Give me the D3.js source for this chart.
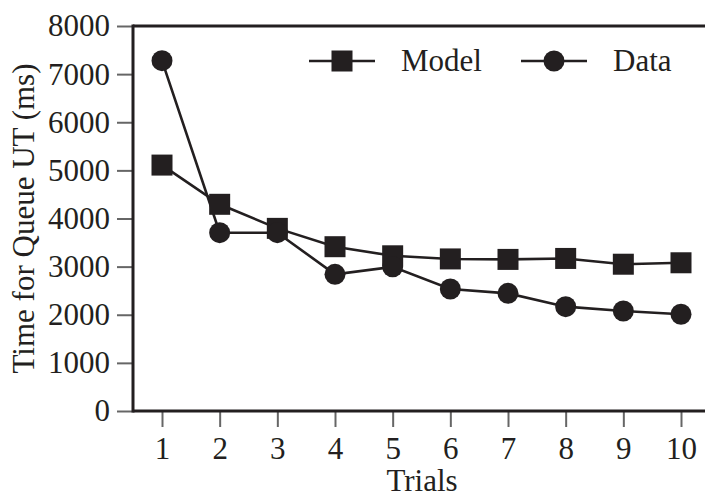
<html>
  <meta charset="utf-8" />
  <script src="https://d3js.org/d3.v7.min.js"></script>
  <style>
    body { margin: 0; background: #fff; }
    text { font-family: "Liberation Serif", "Times New Roman", serif; fill: #231f20; }
  </style>
  <body>
    <svg width="705" height="500" id="chart"></svg>
    <script>
      // values
      const trials = [1, 2, 3, 4, 5, 6, 7, 8, 9, 10];
      const model = [5110, 4295, 3795, 3414, 3225, 3160, 3150, 3170, 3050, 3080];
      const data = [7280, 3705, 3705, 2840, 2995, 2535, 2445, 2168, 2078, 2010];
      const yTicks = [0, 1000, 2000, 3000, 4000, 5000, 6000, 7000, 8000];

      const ink = "#231f20";
      const plotLeft = 133, plotTop = 26, plotBottom = 411, plotRight = 705;

      const svg = d3.select("#chart");

      const x = d3.scaleLinear().domain([1, 10]).range([162, 681]);
      const y = d3.scaleLinear().domain([0, 8000]).range([plotBottom, plotTop]);

      // y axis ticks + labels
      const yAxis = svg
        .append("g")
        .attr("transform", `translate(${plotLeft}, 0)`)
        .call(d3.axisLeft(y).tickValues(yTicks).tickFormat(d3.format("d")).tickSize(16).tickPadding(7));
      yAxis.select(".domain").remove();
      yAxis.selectAll(".tick line").attr("stroke", "#666").attr("stroke-width", 2);
      yAxis.selectAll(".tick text").attr("font-size", 31).attr("font-family", null);

      // x axis ticks + labels
      const xAxis = svg
        .append("g")
        .attr("transform", `translate(0, ${plotBottom})`)
        .call(d3.axisBottom(x).tickValues(trials).tickFormat(d3.format("d")).tickSize(16).tickPadding(10));
      xAxis.select(".domain").remove();
      xAxis.selectAll(".tick line").attr("stroke", "#666").attr("stroke-width", 2);
      xAxis.selectAll(".tick text").attr("font-size", 31).attr("font-family", null);

      // frame: left, top, bottom (open to the right edge)
      svg.append("line").attr("x1", plotLeft).attr("x2", plotRight).attr("y1", plotTop).attr("y2", plotTop)
        .attr("stroke", ink).attr("stroke-width", 3);
      svg.append("line").attr("x1", plotLeft).attr("x2", plotRight).attr("y1", plotBottom).attr("y2", plotBottom)
        .attr("stroke", ink).attr("stroke-width", 3);
      svg.append("line").attr("x1", plotLeft).attr("x2", plotLeft).attr("y1", plotTop - 1.5).attr("y2", plotBottom + 1.5)
        .attr("stroke", ink).attr("stroke-width", 3);

      const line = d3.line().x((d, i) => x(trials[i])).y((d) => y(d));

      svg.append("path").datum(data).attr("d", line)
        .attr("fill", "none").attr("stroke", ink).attr("stroke-width", 2.6);
      svg.append("path").datum(model).attr("d", line)
        .attr("fill", "none").attr("stroke", ink).attr("stroke-width", 2.6);

      const sq = 21;
      svg.selectAll(".sq").data(model).enter().append("rect")
        .attr("x", (d, i) => x(trials[i]) - sq / 2)
        .attr("y", (d) => y(d) - sq / 2)
        .attr("width", sq).attr("height", sq).attr("fill", ink);

      svg.selectAll(".dot").data(data).enter().append("circle")
        .attr("cx", (d, i) => x(trials[i]))
        .attr("cy", (d) => y(d))
        .attr("r", 10.5).attr("fill", ink);

      // legend
      const ly = 61;
      svg.append("line").attr("x1", 309).attr("x2", 375).attr("y1", ly).attr("y2", ly)
        .attr("stroke", ink).attr("stroke-width", 2.6);
      svg.append("rect").attr("x", 342 - sq / 2).attr("y", ly - sq / 2)
        .attr("width", sq).attr("height", sq).attr("fill", ink);
      svg.append("text").attr("x", 401).attr("y", 71).attr("font-size", 31).text("Model");

      svg.append("line").attr("x1", 521).attr("x2", 587).attr("y1", ly).attr("y2", ly)
        .attr("stroke", ink).attr("stroke-width", 2.6);
      svg.append("circle").attr("cx", 554).attr("cy", ly).attr("r", 10.5).attr("fill", ink);
      svg.append("text").attr("x", 613).attr("y", 71).attr("font-size", 31).text("Data");

      // axis titles
      svg.append("text")
        .attr("transform", `translate(34, ${(plotTop + plotBottom) / 2}) rotate(-90)`)
        .attr("text-anchor", "middle")
        .attr("font-size", 31)
        .text("Time for Queue UT (ms)");

      svg.append("text")
        .attr("x", 422)
        .attr("y", 491)
        .attr("text-anchor", "middle")
        .attr("font-size", 31)
        .text("Trials");
    </script>
  </body>
</html>
